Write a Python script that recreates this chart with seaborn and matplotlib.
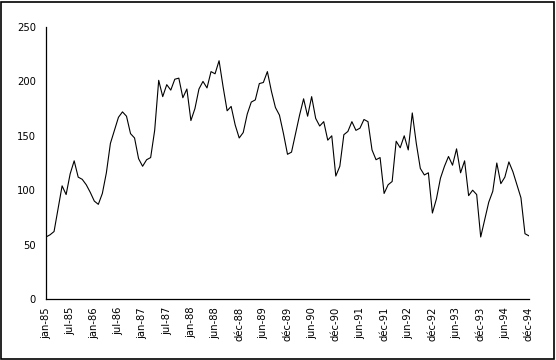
import matplotlib
matplotlib.use("Agg")
import matplotlib.pyplot as plt
import numpy as np
import pandas as pd
import seaborn as sns
from matplotlib.patches import Rectangle

# monthly series, jan-85 .. dec-94 (121 points on the category axis)
values = [
    57, 59, 62, 83, 104, 96, 115, 127, 112, 110, 105, 98,
    90, 87, 97, 116, 143, 155, 167, 172, 168, 152, 148, 129,
    122, 128, 130, 155, 201, 186, 197, 192, 202, 203, 185, 193,
    164, 175, 193, 200, 194, 209, 207, 219, 195, 173, 177, 160,
    148, 153, 170, 181, 183, 198, 199, 209, 191, 176, 169, 152,
    133, 135, 152, 169, 184, 168, 186, 166, 159, 163, 146, 150,
    113, 122, 151, 154, 163, 155, 157, 165, 163, 137, 128, 130,
    97, 105, 108, 145, 139, 150, 137, 171, 143, 120, 114, 116,
    79, 92, 111, 122, 131, 123, 138, 116, 127, 95, 100, 96,
    57, 73, 89, 99, 125, 106, 112, 126, 117, 105, 93, 60,
    58,
]
tick_labels = [
    "jan-85", "jul-85", "jan-86", "jul-86", "jan-87", "jul-87", "jan-88",
    "jun-88", "déc-88", "jun-89", "déc-89", "jun-90", "déc-90", "jun-91",
    "déc-91", "jun-92", "déc-92", "jun-93", "déc-93", "jun-94", "déc-94",
]
y_ticks = [0, 50, 100, 150, 200, 250]

df = pd.DataFrame({"idx": np.arange(len(values)), "value": values})

sns.set_style("white")
plt.rcParams["font.family"] = ["DejaVu Sans"]

fig = plt.figure(figsize=(5.56, 3.6), dpi=100)
ax = fig.add_axes([46 / 556, 61 / 360, 483 / 556, 272 / 360])

sns.lineplot(data=df, x="idx", y="value", color="black", linewidth=0.8, ax=ax)

ax.set_xlim(0, len(values) - 1)
ax.set_ylim(0, 250)
ax.set_yticks(y_ticks)
ax.set_xticks(np.arange(0, len(values), 6))
ax.set_xticklabels(tick_labels, rotation=90)
ax.set_xticks(np.arange(len(values)), minor=True)
ax.tick_params(axis="both", which="both", direction="inout", color="black",
               width=0.8, labelsize=7.2, labelcolor="black")
ax.tick_params(axis="y", which="major", length=4.5, pad=5)
ax.tick_params(axis="x", which="both", length=4.5, pad=3.5)
ax.set_xlabel("")
ax.set_ylabel("")

for side in ["top", "right"]:
    ax.spines[side].set_visible(False)
for side in ["left", "bottom"]:
    ax.spines[side].set_color("black")
    ax.spines[side].set_linewidth(0.9)

# outer chart border
fig.patches.append(Rectangle((0.002, 0.003), 0.994, 0.992, transform=fig.transFigure,
                             fill=False, edgecolor="black", linewidth=1.2))

fig.savefig("out.png", dpi=100)
